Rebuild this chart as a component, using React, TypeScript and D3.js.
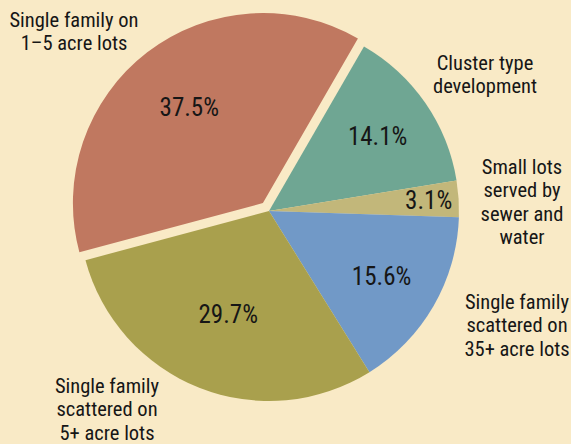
import React from "react";
import * as d3 from "d3";

const categories = [
  "Cluster type development",
  "Small lots served by sewer and water",
  "Single family scattered on 35+ acre lots",
  "Single family scattered on 5+ acre lots",
  "Single family on 1–5 acre lots",
];
const values = [14.1, 3.1, 15.6, 29.7, 37.5];
const valueLabels = ["14.1%", "3.1%", "15.6%", "29.7%", "37.5%"];
const labelLines = [
  ["Cluster type", "development"],
  ["Small lots", "served by", "sewer and", "water"],
  ["Single family", "scattered on", "35+ acre lots"],
  ["Single family", "scattered on", "5+ acre lots"],
  ["Single family on", "1–5 acre lots"],
];
const colors = ["#6fa693", "#c2b77a", "#7199c7", "#a9a04d", "#c07860"];
const exploded = [false, false, false, false, true];

// layout
const W = 571;
const H = 444;
const cx = 269;
const cy = 211;
const R = 190;
const explodeDist = 10;
const labelRadius = [132, 160, 130, 111, 121];
const catLabelPos: [number, number][] = [
  [485, 63],
  [522, 167],
  [517, 302],
  [107, 386],
  [74, 20],
];
const lineH = 23.3;
const font = "'Roboto Condensed', 'DejaVu Sans Condensed', sans-serif";

export default function App() {
  const pie = d3
    .pie<number>()
    .sort(null)
    .startAngle((30 * Math.PI) / 180)
    .endAngle((390 * Math.PI) / 180);
  const arcs = pie(values);
  const arc = d3.arc<d3.PieArcDatum<number>>().innerRadius(0).outerRadius(R);

  return (
    <svg
      width={W}
      height={H}
      style={{ position: "absolute", left: 0, top: 0, background: "#f9eac6" }}
    >
      <rect width={W} height={H} fill="#f9eac6" />
      <g transform={`translate(${cx},${cy})`}>
        {arcs.map((a, i) => {
          const mid = (a.startAngle + a.endAngle) / 2;
          const dx = exploded[i] ? Math.sin(mid) * explodeDist : 0;
          const dy = exploded[i] ? -Math.cos(mid) * explodeDist : 0;
          const lr = labelRadius[i];
          const lx = Math.sin(mid) * lr;
          const ly = -Math.cos(mid) * lr;
          return (
            <g key={categories[i]} transform={`translate(${dx},${dy})`}>
              <path d={arc(a) || ""} fill={colors[i]} />
              <text
                x={lx}
                y={ly}
                textAnchor="middle"
                dominantBaseline="central"
                fontFamily={font}
                fontSize={25}
                fill="#161616"
              >
                {valueLabels[i]}
              </text>
            </g>
          );
        })}
      </g>
      {labelLines.map((lines, i) => (
        <text
          key={"l" + i}
          x={catLabelPos[i][0]}
          y={catLabelPos[i][1]}
          textAnchor="middle"
          dominantBaseline="central"
          fontFamily={font}
          fontSize={20.5}
          fill="#161616"
        >
          {lines.map((t, j) => (
            <tspan key={j} x={catLabelPos[i][0]} y={catLabelPos[i][1] + j * lineH}>
              {t}
            </tspan>
          ))}
        </text>
      ))}
    </svg>
  );
}
